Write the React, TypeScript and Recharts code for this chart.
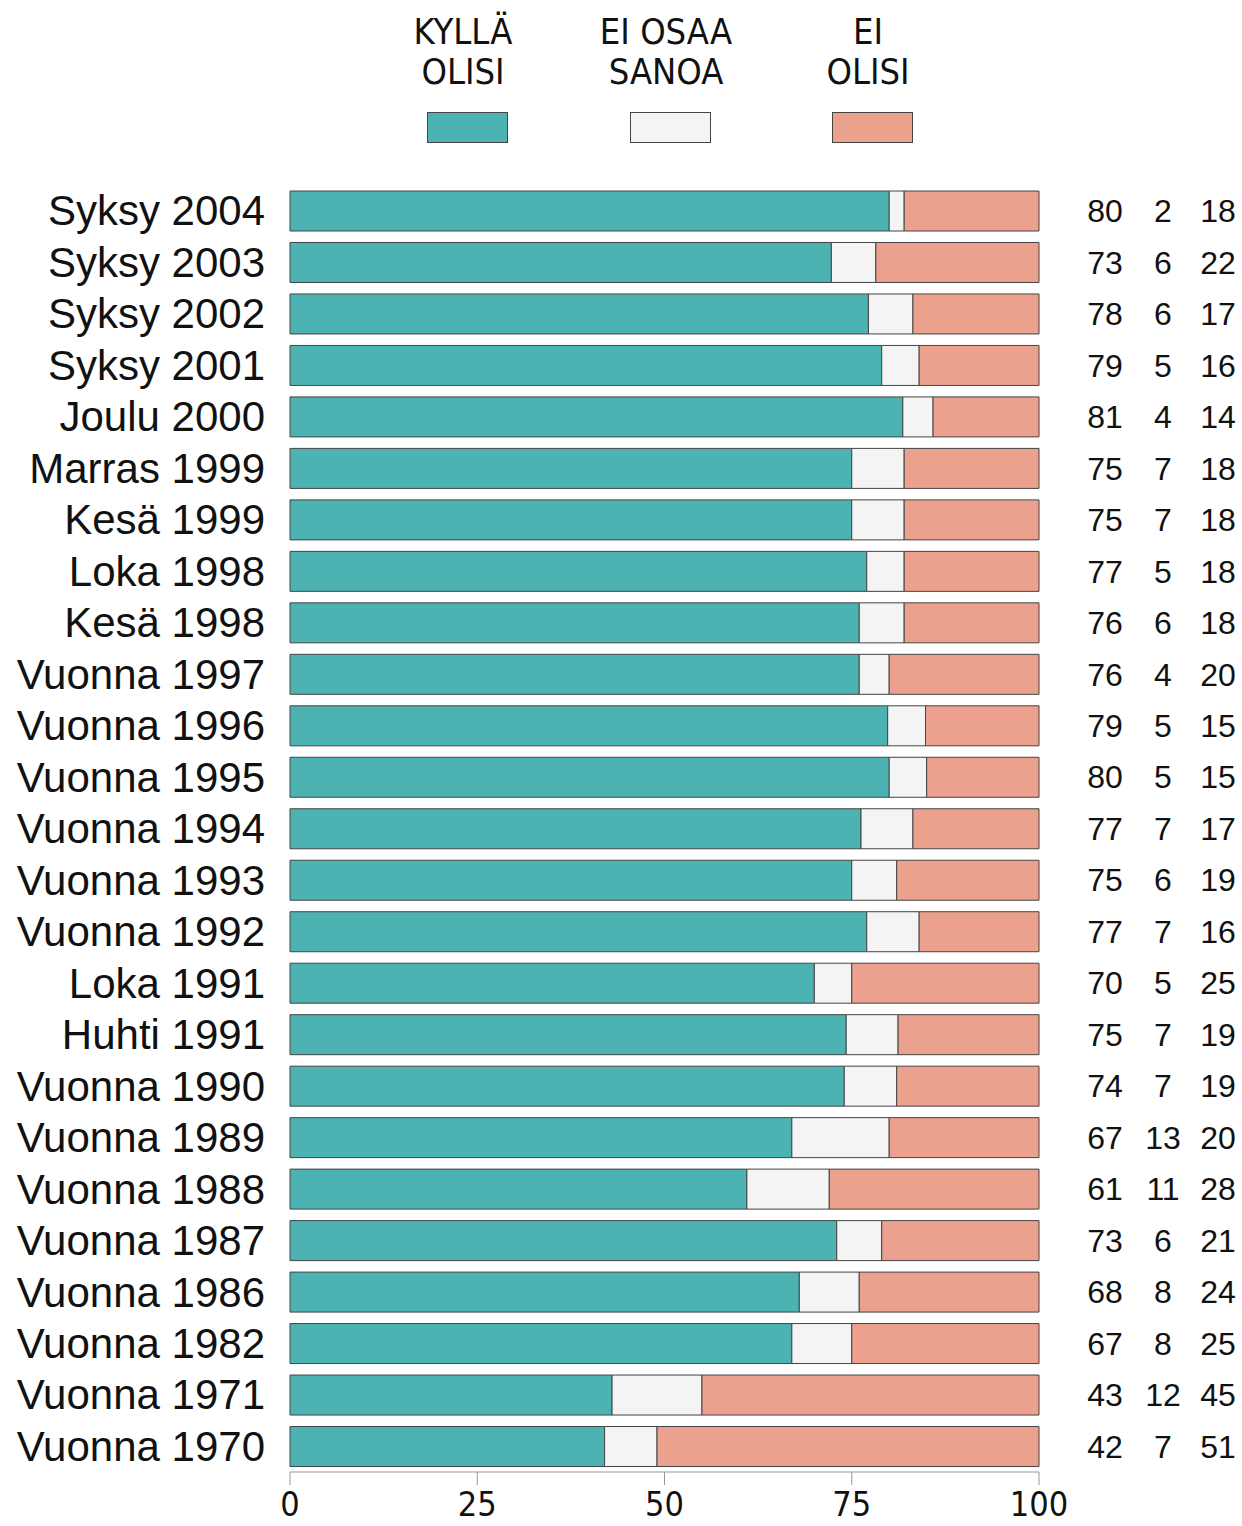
import React from 'react'
import { BarChart, Bar, XAxis, YAxis, LabelList } from 'recharts'

const categories = [
  'Syksy 2004', 'Syksy 2003', 'Syksy 2002', 'Syksy 2001', 'Joulu 2000',
  'Marras 1999', 'Kesä 1999', 'Loka 1998', 'Kesä 1998', 'Vuonna 1997',
  'Vuonna 1996', 'Vuonna 1995', 'Vuonna 1994', 'Vuonna 1993', 'Vuonna 1992',
  'Loka 1991', 'Huhti 1991', 'Vuonna 1990', 'Vuonna 1989', 'Vuonna 1988',
  'Vuonna 1987', 'Vuonna 1986', 'Vuonna 1982', 'Vuonna 1971', 'Vuonna 1970',
]
const kylla = [80, 73, 78, 79, 81, 75, 75, 77, 76, 76, 79, 80, 77, 75, 77, 70, 75, 74, 67, 61, 73, 68, 67, 43, 42]
const eiOsaa = [2, 6, 6, 5, 4, 7, 7, 5, 6, 4, 5, 5, 7, 6, 7, 5, 7, 7, 13, 11, 6, 8, 8, 12, 7]
const eiOlisi = [18, 22, 17, 16, 14, 18, 18, 18, 18, 20, 15, 15, 17, 19, 16, 25, 19, 19, 20, 28, 21, 24, 25, 45, 51]
const xTicks = [0, 0.25, 0.5, 0.75, 1]

const SERIES = [
  { key: 'kylla', label: ['KYLLÄ', 'OLISI'], color: '#4db3b2', legendX: 467, valueX: 1105 },
  { key: 'eiOsaa', label: ['EI OSAA', 'SANOA'], color: '#f4f4f4', legendX: 670, valueX: 1163 },
  { key: 'eiOlisi', label: ['EI', 'OLISI'], color: '#eca18f', legendX: 872, valueX: 1218 },
]

const data = categories.map((name, i) => ({
  name,
  kylla: kylla[i],
  eiOsaa: eiOsaa[i],
  eiOlisi: eiOlisi[i],
}))

const SANS = '"Liberation Sans", Arial, sans-serif'
const NARROW = '"Liberation Sans Narrow", "DejaVu Sans Condensed", sans-serif'

function CategoryTick({ y, payload }: any) {
  return (
    <text x={265} y={y} dy="0.35em" textAnchor="end" fontSize={42} fontFamily={SANS} fill="#111">
      {payload.value}
    </text>
  )
}

export default function App() {
  return (
    <div style={{ position: 'absolute', left: 0, top: 0, width: 1242, height: 1526, background: '#fff' }}>
      {SERIES.map((s) => (
        <div key={s.key}>
          <div
            style={{
              position: 'absolute',
              left: s.legendX - 100 - 4,
              top: 12,
              width: 200,
              textAlign: 'center',
              fontFamily: NARROW,
              fontSize: 36,
              lineHeight: '40px',
              color: '#111',
            }}
          >
            {s.label[0]}
            <br />
            {s.label[1]}
          </div>
          <div
            style={{
              position: 'absolute',
              left: s.legendX - 40,
              top: 112,
              width: 79,
              height: 29,
              background: s.color,
              border: '1px solid #444',
            }}
          />
        </div>
      ))}
      <BarChart
        width={1242}
        height={1526}
        data={data}
        layout="vertical"
        stackOffset="expand"
        barSize={40}
        margin={{ top: 185, right: 203, bottom: 0, left: 10 }}
      >
        <XAxis
          type="number"
          domain={[0, 1]}
          ticks={xTicks}
          tickFormatter={(v: number) => String(Math.round(v * 100))}
          height={54}
          tickSize={13}
          tickMargin={7}
          stroke="#999"
          tick={{ fill: '#111', fontSize: 34, fontFamily: NARROW }}
          interval={0}
        />
        <YAxis
          type="category"
          dataKey="name"
          width={280}
          axisLine={false}
          tickLine={false}
          tick={<CategoryTick />}
          interval={0}
        />
        {SERIES.map((s) => (
          <Bar
            key={s.key}
            dataKey={s.key}
            stackId="a"
            fill={s.color}
            stroke="#444"
            strokeWidth={1}
            isAnimationActive={false}
          >
            <LabelList
              dataKey={s.key}
              content={(p: any) => (
                <text
                  x={s.valueX}
                  y={p.y + p.height / 2}
                  dy="0.35em"
                  textAnchor="middle"
                  fontSize={32}
                  fontFamily={SANS}
                  fill="#111"
                >
                  {p.value}
                </text>
              )}
            />
          </Bar>
        ))}
      </BarChart>
    </div>
  )
}
